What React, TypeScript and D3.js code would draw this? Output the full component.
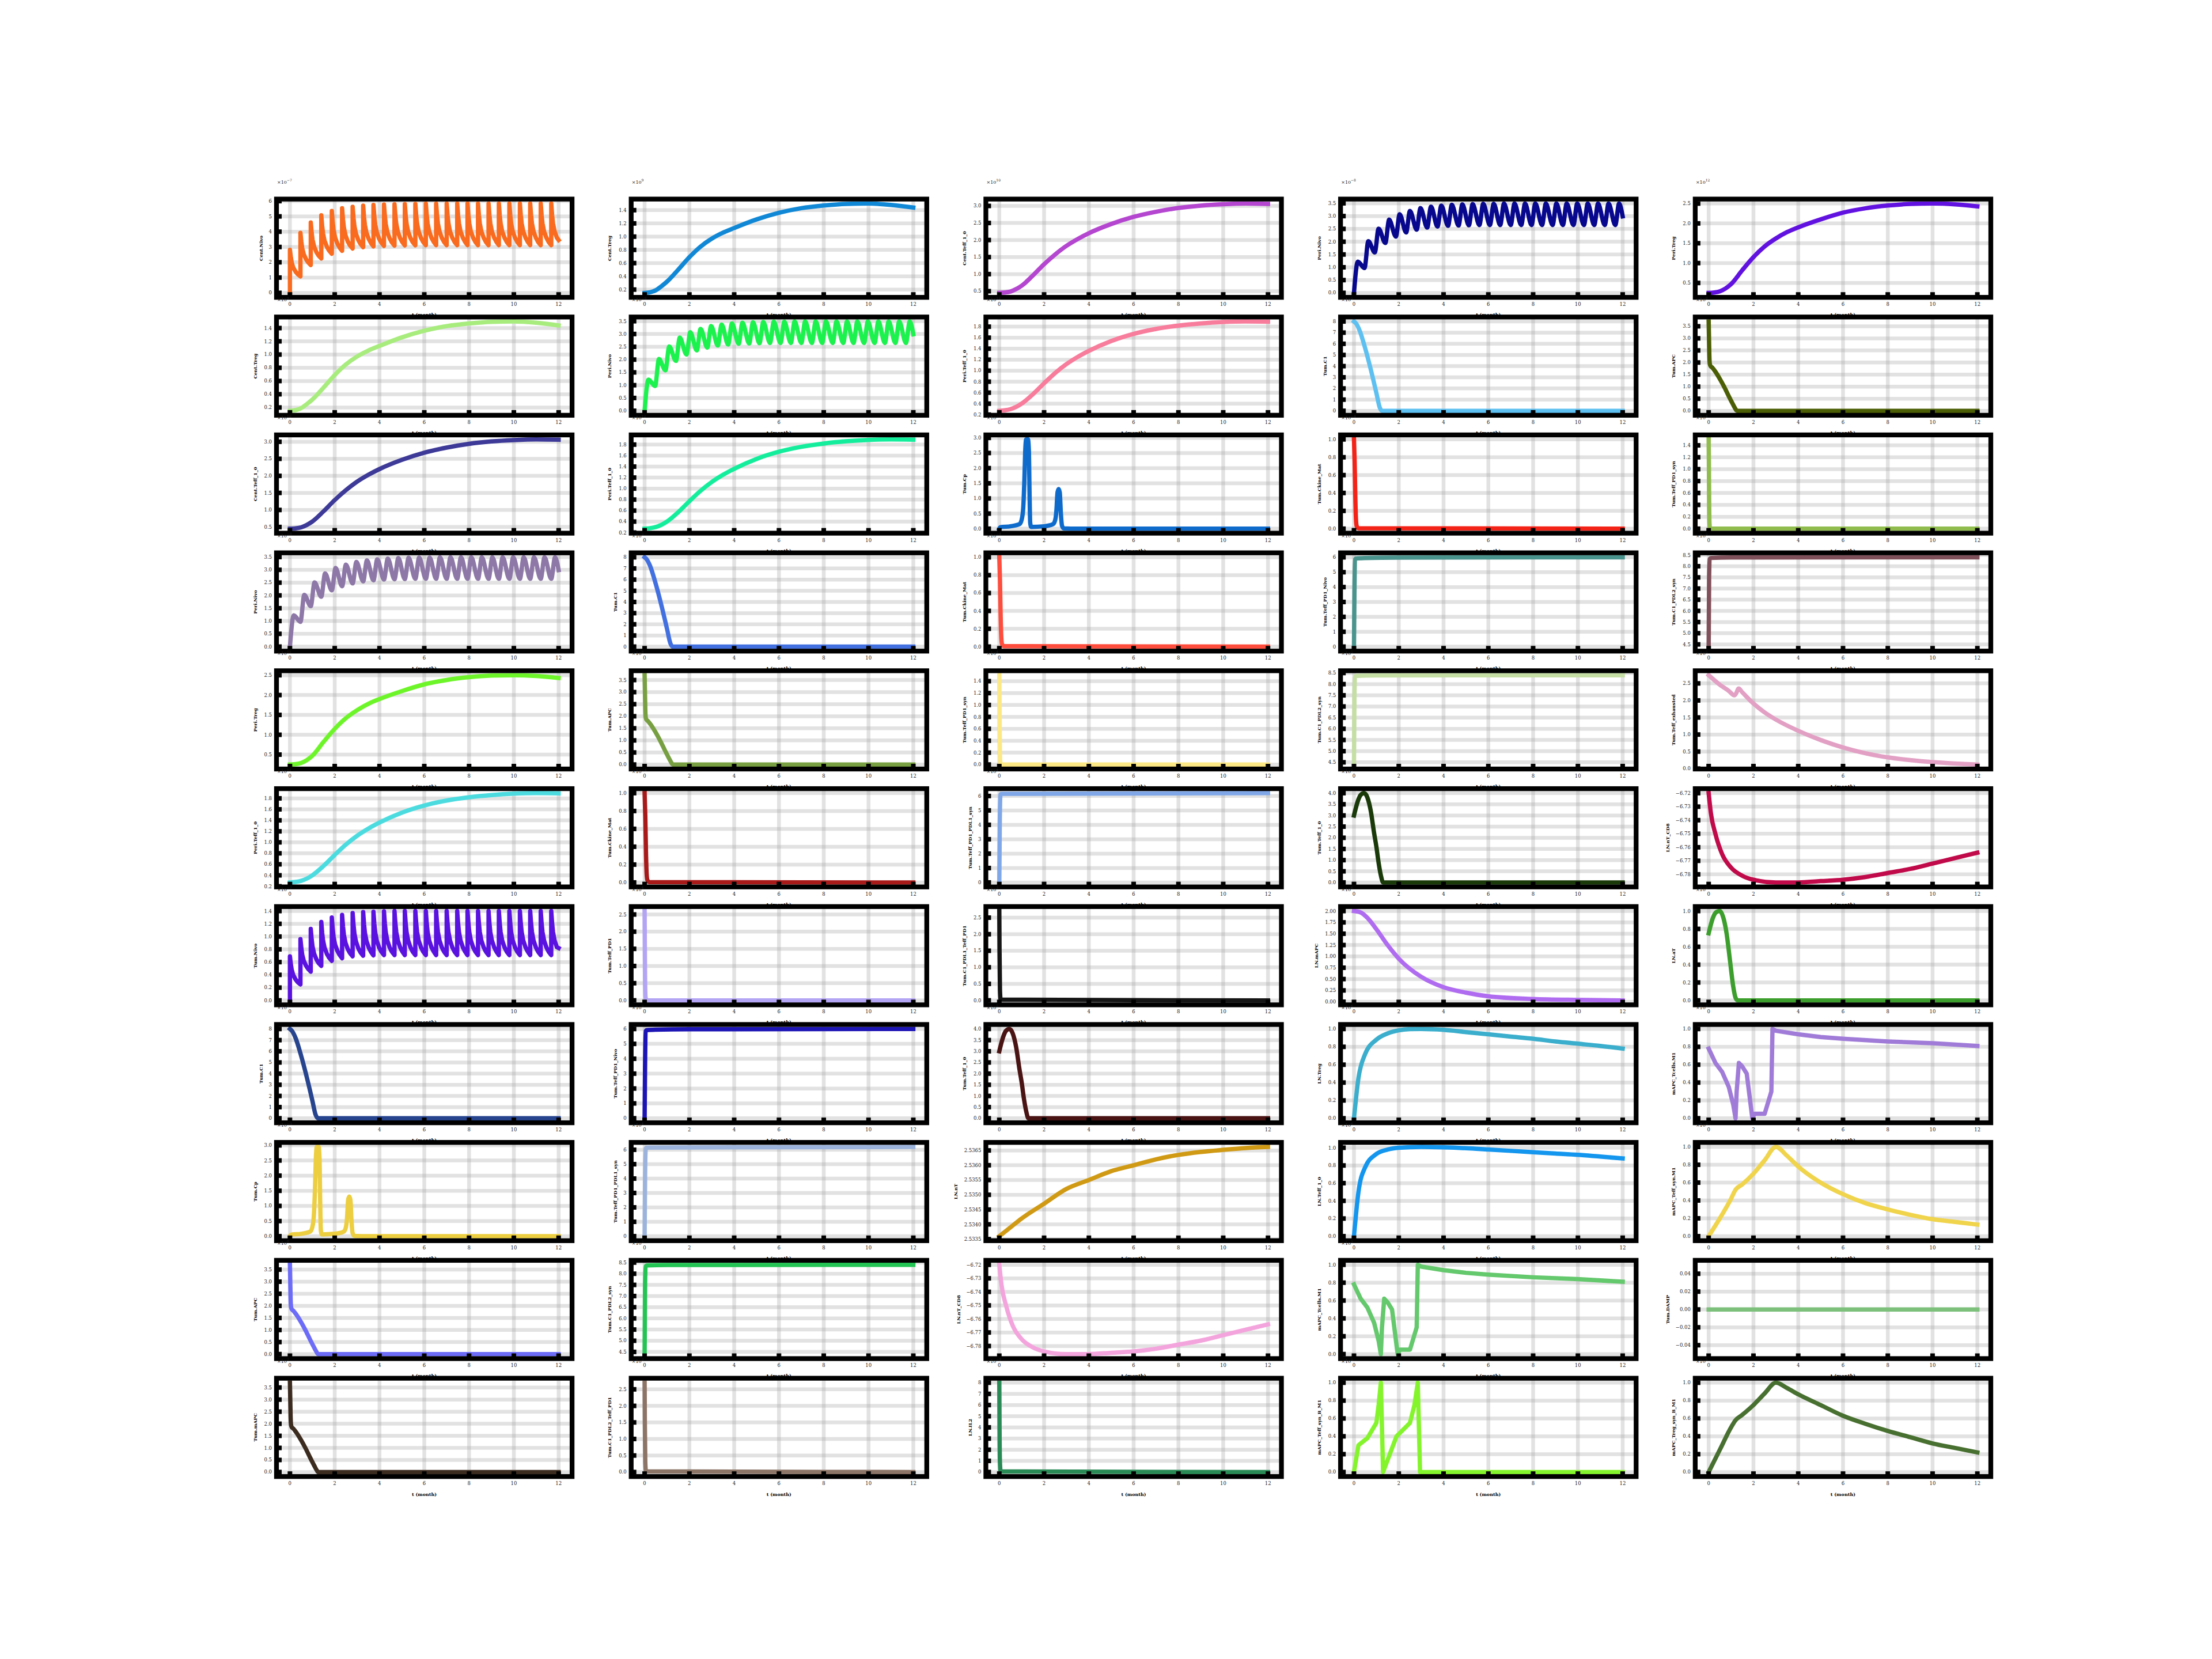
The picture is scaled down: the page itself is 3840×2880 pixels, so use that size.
import React from "react";
import * as d3 from "d3";

// ---------------- figure layout ----------------
const FIG_W = 3840;
const FIG_H = 2880;
const N_ROWS = 11;
const N_COLS = 5;
const GRID_LEFT = 480;
const GRID_RIGHT = 3456;
const GRID_TOP = 345.6;
const GRID_BOTTOM = 2563.2;
const SPACE = 0.2;
const CELL_W = (GRID_RIGHT - GRID_LEFT) / (N_COLS + (N_COLS - 1) * SPACE);
const CELL_H = (GRID_BOTTOM - GRID_TOP) / (N_ROWS + (N_ROWS - 1) * SPACE);
const FONT = "'DejaVu Serif', 'Liberation Serif', serif";
const X_LABEL = "t (month)";
const T_END = 12;

// ---------------- data ----------------
const T_GRID = [0, 0.25, 0.5, 0.75, 1, 1.5, 2, 2.5, 3, 3.5, 4, 5, 6, 7, 8, 9, 10, 11, 12];
const centTreg = [0.15, 0.16, 0.19, 0.25, 0.32, 0.5, 0.69, 0.85, 0.97, 1.06, 1.13, 1.26, 1.36, 1.43, 1.47, 1.495, 1.5, 1.48, 1.44];
const centTeff10 = [0.45, 0.46, 0.49, 0.56, 0.66, 0.96, 1.29, 1.58, 1.83, 2.03, 2.2, 2.47, 2.68, 2.83, 2.94, 3.01, 3.05, 3.07, 3.06];
const periTreg = [0.25, 0.26, 0.29, 0.36, 0.47, 0.82, 1.15, 1.42, 1.62, 1.78, 1.9, 2.1, 2.27, 2.38, 2.45, 2.49, 2.5, 2.48, 2.43];
const periTeff10 = [0.27, 0.28, 0.3, 0.34, 0.4, 0.57, 0.77, 0.96, 1.12, 1.25, 1.36, 1.54, 1.67, 1.76, 1.82, 1.86, 1.885, 1.895, 1.89];

const NIVO_DOSE_T = [0, 0.47, 0.93, 1.4, 1.87, 2.33, 2.8, 3.27, 3.73, 4.2, 4.67, 5.13, 5.6, 6.07, 6.53, 7.0, 7.47, 7.93, 8.4, 8.87, 9.33, 9.8, 10.27, 10.73, 11.2, 11.67];
const NIVO_DECAY_DT = [0, 0.04, 0.08, 0.15, 0.25, 0.35];
const NIVO_DECAY_FRAC = [1, 0.72, 0.52, 0.33, 0.18, 0.08];
const centNivoPeak = [2.81, 3.92, 4.6, 5.07, 5.35, 5.53, 5.63, 5.7, 5.75, 5.78, 5.8, 5.81, 5.82, 5.83, 5.83, 5.84, 5.84, 5.84, 5.84, 5.84, 5.84, 5.84, 5.84, 5.84, 5.84, 5.84];
const centNivoTrough = [1.08, 1.82, 2.25, 2.56, 2.75, 2.9, 2.99, 3.04, 3.07, 3.09, 3.1, 3.11, 3.12, 3.12, 3.12, 3.12, 3.12, 3.12, 3.12, 3.12, 3.12, 3.12, 3.12, 3.12, 3.12, 3.12];
const centNivoEnd = 3.45;
const tumNivoPeak = [0.69, 0.96, 1.12, 1.23, 1.3, 1.34, 1.37, 1.385, 1.39, 1.395, 1.4, 1.4, 1.4, 1.4, 1.4, 1.4, 1.4, 1.4, 1.4, 1.4, 1.4, 1.4, 1.4, 1.4, 1.4, 1.4];
const tumNivoTrough = [0.25, 0.45, 0.54, 0.62, 0.66, 0.69, 0.7, 0.705, 0.71, 0.71, 0.71, 0.71, 0.71, 0.71, 0.71, 0.71, 0.71, 0.71, 0.71, 0.71, 0.71, 0.71, 0.71, 0.71, 0.71, 0.71];
const tumNivoEnd = 0.82;
const PERI_PEAK_DT = 0.17;
const periNivoPeak = [1.22, 2.02, 2.51, 2.86, 3.07, 3.2, 3.31, 3.37, 3.41, 3.44, 3.46, 3.47, 3.48, 3.48, 3.49, 3.49, 3.49, 3.49, 3.49, 3.49, 3.49, 3.49, 3.49, 3.49, 3.49, 3.49];
const periNivoTrough = [0.97, 1.58, 1.95, 2.2, 2.36, 2.47, 2.55, 2.59, 2.62, 2.63, 2.64, 2.65, 2.65, 2.65, 2.65, 2.65, 2.65, 2.65, 2.65, 2.65, 2.65, 2.65, 2.65, 2.65, 2.65];
const periNivoEnd = 2.99;

const tumC1T = [0, 0.1, 0.25, 0.5, 0.75, 1.0, 1.15, 1.25, 12];
const tumC1V = [8.0, 7.8, 7.2, 5.6, 3.7, 1.6, 0.3, 0.0, 0.0];
const tumApcT = [0, 0.015, 0.03, 0.05, 0.08, 0.15, 0.3, 0.5, 0.7, 0.9, 1.1, 1.2, 1.26, 12];
const tumApcV = [3.7, 3.0, 2.3, 1.95, 1.86, 1.8, 1.62, 1.32, 0.98, 0.6, 0.24, 0.07, 0.0, 0.0];
const tumMapcT = [0, 0.015, 0.03, 0.05, 0.08, 0.15, 0.3, 0.5, 0.7, 0.9, 1.1, 1.2, 1.26, 12];
const tumMapcV = [3.7, 3.0, 2.3, 1.95, 1.86, 1.8, 1.62, 1.32, 0.98, 0.6, 0.24, 0.07, 0.0, 0.0];
const tumCpT = [0, 0.05, 0.5, 0.9, 1.0, 1.07, 1.12, 1.16, 1.2, 1.28, 1.32, 1.35, 1.38, 1.42, 2.0, 2.4, 2.5, 2.55, 2.6, 2.65, 2.7, 2.75, 2.8, 2.88, 3.5, 12];
const tumCpV = [0.0, 0.05, 0.08, 0.15, 0.3, 0.7, 1.6, 2.6, 2.95, 2.95, 2.6, 1.2, 0.2, 0.06, 0.08, 0.15, 0.3, 0.6, 1.2, 1.31, 1.2, 0.5, 0.1, 0.01, 0.0, 0.0];
const tumCkineT = [0, 0.03, 0.06, 0.09, 0.12, 0.2, 12];
const tumCkineV = [1.0, 0.75, 0.35, 0.1, 0.03, 0.005, 0];
const tumTeffPd1SynT = [0, 0.01, 0.02, 0.035, 0.06, 12];
const tumTeffPd1SynV = [1.5, 1.1, 0.5, 0.1, 0.0, 0.0];
const tumTeffPd1NivoT = [0, 0.02, 0.05, 0.1, 0.5, 2, 12];
const tumTeffPd1NivoV = [0, 3.5, 5.85, 5.92, 5.95, 5.98, 6.0];
const tumC1Pdl2SynT = [0, 0.02, 0.05, 0.1, 1, 12];
const tumC1Pdl2SynV = [4.4, 7.5, 8.33, 8.37, 8.39, 8.4];
const tumTeffExhT = [0, 0.5, 0.9, 1.15, 1.22, 1.34, 1.5, 1.9, 2.5, 3, 4, 5, 6, 7, 8, 9, 10, 11, 12];
const tumTeffExhV = [2.74, 2.46, 2.28, 2.15, 2.2, 2.35, 2.24, 1.97, 1.65, 1.44, 1.11, 0.84, 0.62, 0.45, 0.33, 0.25, 0.19, 0.15, 0.12];
const tumTeffPd1T = [0, 0.01, 0.02, 0.04, 0.08, 12];
const tumTeffPd1V = [2.6, 1.5, 0.6, 0.1, 0.0, 0.0];
const tumTeffPd1Pdl1T = [0, 0.02, 0.05, 0.1, 12];
const tumTeffPd1Pdl1V = [0, 4.0, 6.1, 6.15, 6.2];
const tumC1Pdl1TeffT = [0, 0.01, 0.03, 0.06, 12];
const tumC1Pdl1TeffV = [2.7, 1.5, 0.3, 0.02, 0];
const tumTeff10T = [0, 0.1, 0.2, 0.3, 0.45, 0.6, 0.75, 0.9, 1.0, 1.1, 1.2, 1.3, 12];
const tumTeff10V = [3.0, 3.4, 3.72, 3.92, 4.0, 3.8, 3.2, 2.2, 1.6, 0.88, 0.32, 0.0, 0.0];
const lnNtT = [0, 0.5, 1, 2, 3, 4, 5, 6, 7, 8, 9, 10, 11, 12];
const lnNtV = [2.5336, 2.5339, 2.5342, 2.5347, 2.5352, 2.5355, 2.5358, 2.536, 2.5362, 2.53635, 2.53645, 2.53652, 2.53658, 2.53662];
const lnMapcT = [0, 0.3, 0.6, 1, 1.5, 2, 3, 4, 5, 6, 8, 10, 12];
const lnMapcV = [2.0, 1.97, 1.85, 1.6, 1.25, 0.95, 0.55, 0.32, 0.2, 0.12, 0.06, 0.04, 0.03];
const lnNtCd8T = [0, 0.1, 0.3, 0.6, 1, 1.5, 2, 3, 4, 5, 6, 7, 8, 9, 10, 11, 12];
const lnNtCd8V = [-6.72, -6.735, -6.75, -6.765, -6.775, -6.781, -6.784, -6.786, -6.786, -6.785, -6.784, -6.782, -6.779, -6.776, -6.772, -6.768, -6.764];
const lnTregT = [0, 0.2, 0.5, 1, 1.5, 2, 2.5, 3, 4, 5, 6, 7, 8, 9, 10, 11, 12];
const lnTregV = [0.0, 0.45, 0.72, 0.88, 0.95, 0.985, 0.998, 1.0, 0.99, 0.965, 0.94, 0.915, 0.89, 0.86, 0.835, 0.81, 0.78];
const lnIl2T = [0, 0.01, 0.03, 0.06, 12];
const lnIl2V = [8.0, 4.0, 0.8, 0.05, 0];
const lnNt0T = [0, 0.1, 0.2, 0.35, 0.5, 0.65, 0.8, 0.95, 1.1, 1.2, 1.3, 12];
const lnNt0V = [0.75, 0.85, 0.93, 0.99, 1.0, 0.93, 0.75, 0.45, 0.15, 0.03, 0.0, 0.0];
const lnNt10T = [0, 0.2, 0.5, 1, 1.5, 2, 3, 4, 5, 6, 7, 8, 9, 10, 11, 12];
const lnNt10V = [0.0, 0.5, 0.78, 0.93, 0.98, 1.0, 1.01, 1.005, 0.995, 0.98, 0.965, 0.95, 0.935, 0.92, 0.9, 0.88];
const mapcTcellsT = [0, 0.3, 0.6, 0.9, 1.1, 1.2, 1.25, 1.35, 1.5, 1.7, 1.85, 1.95, 2.05, 2.5, 2.8, 2.85, 3, 4, 5, 6, 8, 10, 12];
const mapcTcellsV = [0.78, 0.62, 0.52, 0.35, 0.15, 0.0, 0.3, 0.62, 0.58, 0.5, 0.2, 0.0, 0.05, 0.05, 0.3, 1.0, 0.98, 0.94, 0.91, 0.89, 0.86, 0.84, 0.81];
const mapcTeffSynT = [0, 0.5, 1, 1.2, 1.5, 2, 2.5, 3, 3.5, 4, 5, 6, 7, 8, 9, 10, 11, 12];
const mapcTeffSynV = [0.0, 0.2, 0.42, 0.52, 0.58, 0.7, 0.85, 1.0, 0.9, 0.78, 0.6, 0.47, 0.37, 0.3, 0.24, 0.19, 0.16, 0.13];
const mapcTeffSynBT = [0, 0.2, 0.6, 1.0, 1.1, 1.2, 1.3, 1.9, 2.5, 2.7, 2.85, 2.95, 12];
const mapcTeffSynBV = [0.0, 0.3, 0.38, 0.55, 0.75, 1.0, 0.0, 0.4, 0.55, 0.75, 1.0, 0.0, 0.0];
const mapcTregSynT = [0, 0.5, 1, 1.2, 1.5, 2, 2.5, 3, 3.5, 4, 5, 6, 7, 8, 9, 10, 11, 12];
const mapcTregSynV = [0.0, 0.25, 0.5, 0.58, 0.64, 0.75, 0.88, 1.0, 0.94, 0.87, 0.75, 0.63, 0.54, 0.46, 0.39, 0.32, 0.27, 0.22];
const tumDampT = [0, 12];
const tumDampV = [0, 0];

type Series = { label: string; exp: number | null; t: number[]; v: number[]; kind: "smooth" | "linear" };

function sawtooth(peaks: number[], troughs: number[], endValue: number): [number[], number[]] {
  const t: number[] = [];
  const v: number[] = [];
  let prev = 0;
  NIVO_DOSE_T.forEach((d, i) => {
    const last = i === NIVO_DOSE_T.length - 1;
    const tr = troughs[Math.min(i, troughs.length - 1)];
    t.push(d); v.push(prev);
    NIVO_DECAY_DT.forEach((dt, k) => {
      if (d + dt < (last ? T_END : NIVO_DOSE_T[i + 1])) {
        t.push(d + dt);
        v.push(tr + (peaks[i] - tr) * NIVO_DECAY_FRAC[k]);
      }
    });
    if (last) { t.push(T_END); v.push(endValue); }
    else { t.push(NIVO_DOSE_T[i + 1]); v.push(tr); }
    prev = tr;
  });
  return [t, v];
}

function oscillation(peaks: number[], troughs: number[], endValue: number): [number[], number[]] {
  const t: number[] = [0];
  const v: number[] = [0];
  NIVO_DOSE_T.forEach((d, i) => {
    t.push(d + PERI_PEAK_DT); v.push(peaks[i]);
    if (i < NIVO_DOSE_T.length - 1) { t.push(NIVO_DOSE_T[i + 1]); v.push(troughs[i]); }
  });
  t.push(T_END); v.push(endValue);
  return [t, v];
}

const [centNivoT, centNivoV] = sawtooth(centNivoPeak, centNivoTrough, centNivoEnd);
const [tumNivoT, tumNivoV] = sawtooth(tumNivoPeak, tumNivoTrough, tumNivoEnd);
const [periNivoT, periNivoV] = oscillation(periNivoPeak, periNivoTrough, periNivoEnd);

const SERIES: Record<string, Series> = {
  centNivo: { label: "Cent.Nivo", exp: -7, t: centNivoT, v: centNivoV, kind: "linear" },
  centTreg: { label: "Cent.Treg", exp: 9, t: T_GRID, v: centTreg, kind: "smooth" },
  centTeff: { label: "Cent.Teff_1_0", exp: 10, t: T_GRID, v: centTeff10, kind: "smooth" },
  periNivo: { label: "Peri.Nivo", exp: -8, t: periNivoT, v: periNivoV, kind: "smooth" },
  periTreg: { label: "Peri.Treg", exp: 12, t: T_GRID, v: periTreg, kind: "smooth" },
  periTeff: { label: "Peri.Teff_1_0", exp: 12, t: T_GRID, v: periTeff10, kind: "smooth" },
  tumNivo: { label: "Tum.Nivo", exp: -7, t: tumNivoT, v: tumNivoV, kind: "linear" },
  tumC1: { label: "Tum.C1", exp: 5, t: tumC1T, v: tumC1V, kind: "smooth" },
  tumCp: { label: "Tum.Cp", exp: -3, t: tumCpT, v: tumCpV, kind: "smooth" },
  tumApc: { label: "Tum.APC", exp: 8, t: tumApcT, v: tumApcV, kind: "smooth" },
  tumMapc: { label: "Tum.mAPC", exp: 7, t: tumMapcT, v: tumMapcV, kind: "smooth" },
  tumCkine: { label: "Tum.Ckine_Mat", exp: -4, t: tumCkineT, v: tumCkineV, kind: "smooth" },
  tumTeffPd1: { label: "Tum.Teff_PD1", exp: 4, t: tumTeffPd1T, v: tumTeffPd1V, kind: "smooth" },
  tumTeffPd1Syn: { label: "Tum.Teff_PD1_syn", exp: 4, t: tumTeffPd1SynT, v: tumTeffPd1SynV, kind: "smooth" },
  tumTeffPd1Nivo: { label: "Tum.Teff_PD1_Nivo", exp: 5, t: tumTeffPd1NivoT, v: tumTeffPd1NivoV, kind: "smooth" },
  tumTeffPd1Pdl1: { label: "Tum.Teff_PD1_PDL1_syn", exp: 4, t: tumTeffPd1Pdl1T, v: tumTeffPd1Pdl1V, kind: "smooth" },
  tumC1Pdl2Syn: { label: "Tum.C1_PDL2_syn", exp: 5, t: tumC1Pdl2SynT, v: tumC1Pdl2SynV, kind: "smooth" },
  tumC1Pdl1Teff: { label: "Tum.C1_PDL1_Teff_PD1", exp: 3, t: tumC1Pdl1TeffT, v: tumC1Pdl1TeffV, kind: "smooth" },
  tumC1Pdl1Teff2: { label: "Tum.C1_PDL2_Teff_PD1", exp: 3, t: tumC1Pdl1TeffT, v: tumC1Pdl1TeffV, kind: "smooth" },
  tumTeff10: { label: "Tum.Teff_1_0", exp: 5, t: tumTeff10T, v: tumTeff10V, kind: "smooth" },
  tumTeffExh: { label: "Tum.Teff_exhausted", exp: 5, t: tumTeffExhT, v: tumTeffExhV, kind: "smooth" },
  lnNt: { label: "LN.nT", exp: null, t: lnNtT, v: lnNtV, kind: "smooth" },
  lnMapc: { label: "LN.mAPC", exp: 6, t: lnMapcT, v: lnMapcV, kind: "smooth" },
  lnNtCd8: { label: "LN.nT_CD8", exp: null, t: lnNtCd8T, v: lnNtCd8V, kind: "smooth" },
  lnNtCd4: { label: "LN.nT_CD4", exp: null, t: lnNtCd8T, v: lnNtCd8V, kind: "smooth" },
  lnTreg: { label: "LN.Treg", exp: 6, t: lnTregT, v: lnTregV, kind: "smooth" },
  lnIl2: { label: "LN.IL2", exp: -9, t: lnIl2T, v: lnIl2V, kind: "smooth" },
  lnNt0: { label: "LN.aT", exp: 5, t: lnNt0T, v: lnNt0V, kind: "smooth" },
  lnNt10: { label: "LN.Teff_1_0", exp: 6, t: lnNt10T, v: lnNt10V, kind: "smooth" },
  mapcTcells: { label: "mAPC_Tcells.M1", exp: 5, t: mapcTcellsT, v: mapcTcellsV, kind: "linear" },
  mapcTeffSyn: { label: "mAPC_Teff_syn.M1", exp: 5, t: mapcTeffSynT, v: mapcTeffSynV, kind: "smooth" },
  mapcTeffSynB: { label: "mAPC_Teff_syn_B_M1", exp: 5, t: mapcTeffSynBT, v: mapcTeffSynBV, kind: "linear" },
  mapcTregSyn: { label: "mAPC_Treg_syn_B_M1", exp: 5, t: mapcTregSynT, v: mapcTregSynV, kind: "smooth" },
  tumDamp: { label: "Tum.DAMP", exp: null, t: tumDampT, v: tumDampV, kind: "linear" },
};

const GRID_KEYS = [
  ["centNivo", "centTreg", "centTeff", "periNivo", "periTreg"],
  ["centTreg", "periNivo", "periTeff", "tumC1", "tumApc"],
  ["centTeff", "periTeff", "tumCp", "tumCkine", "tumTeffPd1Syn"],
  ["periNivo", "tumC1", "tumCkine", "tumTeffPd1Nivo", "tumC1Pdl2Syn"],
  ["periTreg", "tumApc", "tumTeffPd1Syn", "tumC1Pdl2Syn", "tumTeffExh"],
  ["periTeff", "tumCkine", "tumTeffPd1Pdl1", "tumTeff10", "lnNtCd8"],
  ["tumNivo", "tumTeffPd1", "tumC1Pdl1Teff", "lnMapc", "lnNt0"],
  ["tumC1", "tumTeffPd1Nivo", "tumTeff10", "lnTreg", "mapcTcells"],
  ["tumCp", "tumTeffPd1Pdl1", "lnNt", "lnNt10", "mapcTeffSyn"],
  ["tumApc", "tumC1Pdl2Syn", "lnNtCd8", "mapcTcells", "tumDamp"],
  ["tumMapc", "tumC1Pdl1Teff2", "lnIl2", "mapcTeffSynB", "mapcTregSyn"],
];
const GRID_COLORS = [
  ["#f96b1e", "#1188d6", "#b446d0", "#08088f", "#6212e0"],
  ["#a8ec7e", "#1cf24e", "#f87c9c", "#5ec0f0", "#4b5e05"],
  ["#3d3a98", "#14ee9c", "#0e6bcc", "#f42318", "#8fbc4c"],
  ["#8e78a8", "#4270e0", "#ff4d3d", "#4a948e", "#80505a"],
  ["#6ef52a", "#78a042", "#fce884", "#c4dea4", "#e2a0c4"],
  ["#4cdce0", "#a81a1a", "#80a8e8", "#1a3a0a", "#c00a4a"],
  ["#5a12e0", "#b4a4f4", "#151515", "#b06cf0", "#3c9e2c"],
  ["#27448e", "#1c14b4", "#4a1414", "#3aaecc", "#a07cd8"],
  ["#ecce40", "#9cb4dc", "#d09a14", "#1496ee", "#f0d44c"],
  ["#6c6cf8", "#24c454", "#f4a4dc", "#64c86c", "#7cc07c"],
  ["#3c2c20", "#8c7466", "#2a8a56", "#84f42c", "#487030"],
];

// ---------------- helpers ----------------
function decimalsFor(step: number): number {
  for (let d = 0; d < 8; d++) {
    const s = step * Math.pow(10, d);
    if (Math.abs(s - Math.round(s)) < 1e-6) return d;
  }
  return 8;
}

function maxNTicks(lo: number, hi: number, nbins = 9) {
  const raw = (hi - lo) / nbins;
  const mag = Math.pow(10, Math.floor(Math.log10(raw)));
  const steps = [1, 2, 2.5, 5, 10];
  let step = 10 * mag;
  for (const s of steps) {
    if (s * mag >= raw * (1 - 1e-9)) { step = s * mag; break; }
  }
  const a = Math.ceil(lo / step - 1e-9);
  const b = Math.floor(hi / step + 1e-9);
  const ticks: number[] = [];
  for (let k = a; k <= b; k++) ticks.push(k * step);
  return { ticks, step };
}

function fmt(v: number, dec: number): string {
  const s = (Math.abs(v) < 1e-12 ? 0 : v).toFixed(dec);
  return s.replace("-", "\u2212");
}

function expandDomain(lo: number, hi: number): [number, number] {
  if (hi - lo < 1e-12) {
    const d = Math.abs(lo) > 0 ? Math.abs(lo) * 0.05 : 0.05;
    return [lo - d * 1.1, hi + d * 1.1];
  }
  const m = (hi - lo) * 0.05;
  return [lo - m, hi + m];
}

const SPINE_W = 8.3;
const GRID_W = 6.5;
const LINE_W = 7.5;
const TICK_LEN = 9;
const TICK_W = 8;
const TICK_FS = 8.5;
const LABEL_FS = 8;

function Subplot({ row, col, seriesKey, color }: { row: number; col: number; seriesKey: string; color: string }) {
  const s = SERIES[seriesKey];
  const x0 = GRID_LEFT + col * CELL_W * (1 + SPACE);
  const y0 = GRID_TOP + row * CELL_H * (1 + SPACE);
  const w = CELL_W;
  const h = CELL_H;
  const id = `clip-${row}-${col}`;

  const xDom = expandDomain(0, T_END);
  const x = d3.scaleLinear().domain(xDom).range([x0, x0 + w]);
  const vmin = d3.min(s.v) as number;
  const vmax = d3.max(s.v) as number;
  const yDom = expandDomain(vmin, vmax);
  const y = d3.scaleLinear().domain(yDom).range([y0 + h, y0]);

  const xt = maxNTicks(xDom[0], xDom[1]);
  const yt = maxNTicks(yDom[0], yDom[1]);
  const xDec = decimalsFor(xt.step);
  const yDec = decimalsFor(yt.step);

  const pts: [number, number][] = s.t.map((t, i) => [t, s.v[i]]);
  const line = d3
    .line<[number, number]>()
    .x((d) => x(d[0]))
    .y((d) => y(d[1]))
    .curve(s.kind === "smooth" ? d3.curveMonotoneX : d3.curveLinear);

  const yLabels = yt.ticks.map((v) => fmt(v, yDec));
  const maxLen = d3.max(yLabels, (l) => l.length) as number;
  const tickLabelLeft = x0 - 8 - maxLen * TICK_FS * 0.6;
  const yLabelX = tickLabelLeft - 14;
  const isLastRow = row === N_ROWS - 1;

  return (
    <g>
      <defs>
        <clipPath id={id}>
          <rect x={x0} y={y0} width={w} height={h} />
        </clipPath>
      </defs>
      <rect x={x0} y={y0} width={w} height={h} fill="#ffffff" />
      <g clipPath={`url(#${id})`} stroke="#a8a8a8" strokeOpacity={0.33} strokeWidth={GRID_W}>
        {xt.ticks.map((t, i) => (
          <line key={`gx${i}`} x1={x(t)} x2={x(t)} y1={y0} y2={y0 + h} />
        ))}
        {yt.ticks.map((t, i) => (
          <line key={`gy${i}`} x1={x0} x2={x0 + w} y1={y(t)} y2={y(t)} />
        ))}
      </g>
      <path
        d={line(pts) || ""}
        fill="none"
        stroke={color}
        strokeWidth={LINE_W}
        strokeLinejoin="round"
        strokeLinecap="square"
        clipPath={`url(#${id})`}
      />
      <rect x={x0} y={y0} width={w} height={h} fill="none" stroke="#000" strokeWidth={SPINE_W} />
      <g stroke="#000" strokeWidth={TICK_W}>
        {xt.ticks.map((t, i) => (
          <line key={`tx${i}`} x1={x(t)} x2={x(t)} y1={y0 + h} y2={y0 + h - TICK_LEN} />
        ))}
        {yt.ticks.map((t, i) => (
          <line key={`ty${i}`} x1={x0} x2={x0 + TICK_LEN} y1={y(t)} y2={y(t)} />
        ))}
      </g>
      <g fontFamily={FONT} fontSize={TICK_FS} fill="#222">
        {xt.ticks.map((t, i) => (
          <text key={`lx${i}`} x={x(t)} y={y0 + h + 15} textAnchor="middle">
            {fmt(t, xDec)}
          </text>
        ))}
        {yt.ticks.map((t, i) => (
          <text key={`ly${i}`} x={x0 - 8} y={y(t) + 3} textAnchor="end">
            {yLabels[i]}
          </text>
        ))}
      </g>
      <text
        x={x0 + w / 2}
        y={y0 + h + (isLastRow ? 34 : 33)}
        textAnchor="middle"
        fontFamily={FONT}
        fontSize={LABEL_FS}
        fontWeight="bold"
        fill="#000"
      >
        {X_LABEL}
      </text>
      <text
        transform={`translate(${yLabelX},${y0 + h / 2}) rotate(-90)`}
        textAnchor="middle"
        dy="0.35em"
        fontFamily={FONT}
        fontSize={LABEL_FS}
        fontWeight="bold"
        fill="#000"
      >
        {s.label}
      </text>
      {s.exp !== null && (
        <text x={x0 + 1} y={y0 - 27} fontFamily={FONT} fontSize={LABEL_FS} fill="#222">
          {"\u00d710"}
          <tspan dy={-3.5} fontSize={6}>
            {fmt(s.exp, 0)}
          </tspan>
        </text>
      )}
    </g>
  );
}

export default function App() {
  const cells: { row: number; col: number; key: string; color: string }[] = [];
  GRID_KEYS.forEach((r, ri) => r.forEach((k, ci) => cells.push({ row: ri, col: ci, key: k, color: GRID_COLORS[ri][ci] })));
  return (
    <svg
      width={FIG_W}
      height={FIG_H}
      viewBox={`0 0 ${FIG_W} ${FIG_H}`}
      style={{ position: "absolute", left: 0, top: 0, display: "block", background: "#fff" }}
    >
      <rect width={FIG_W} height={FIG_H} fill="#ffffff" />
      {cells.map((c) => (
        <Subplot key={`${c.row}-${c.col}`} row={c.row} col={c.col} seriesKey={c.key} color={c.color} />
      ))}
    </svg>
  );
}
